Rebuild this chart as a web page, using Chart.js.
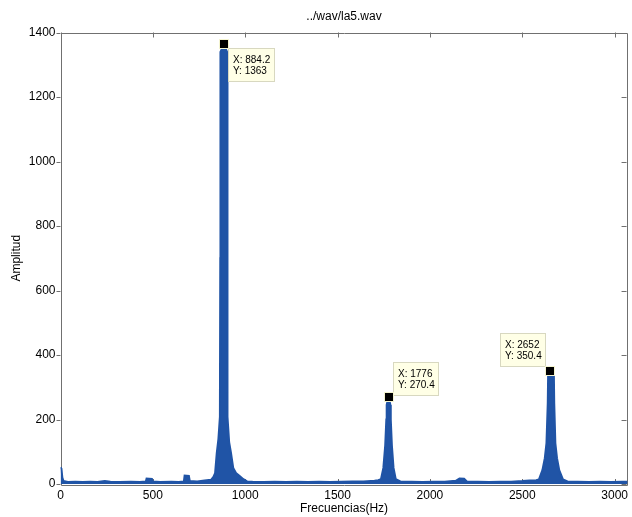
<!DOCTYPE html>
<html>
<head>
<meta charset="utf-8">
<script src="https://cdn.jsdelivr.net/npm/chart.js@4"></script>
<style>
  body { margin: 0; background: #fff; }
  canvas { display: block; }
</style>
</head>
<body>
<canvas id="chart" width="632" height="517"></canvas>
<script>
// spectrum envelope (Hz / amplitude)
var freqs = [0, 5, 10, 16, 40, 80, 120, 160, 200, 240, 270, 320, 380, 430, 462, 466, 495, 500, 540, 600, 640, 668, 672, 695, 700, 740, 780,
  815, 828, 837, 846, 855, 863, 865, 866, 884, 902, 903, 905, 913, 923, 935, 950, 970, 990, 1010,
  1040, 1100, 1160, 1220, 1280, 1340, 1400, 1460, 1520, 1580, 1640, 1700, 1720,
  1735, 1748, 1758, 1764, 1766, 1776, 1786, 1788, 1794, 1803, 1815, 1840,
  1900, 1960, 2020, 2080, 2140, 2160, 2185, 2200, 2260, 2320, 2380, 2440, 2500, 2540, 2575,
  2590, 2609, 2622, 2631, 2638, 2640, 2655, 2671, 2673, 2679, 2688, 2700, 2720, 2745,
  2800, 2860, 2920, 2980, 3040, 3070];
var amps = [52, 48, 20, 9, 6, 7, 6, 7, 6, 9, 7, 6, 7, 6, 8, 17, 16, 8, 6, 7, 6, 8, 26, 25, 9, 8, 11,
  13, 22, 34, 96, 140, 208, 700, 1340, 1363, 1340, 700, 208, 130, 96, 50, 34, 25, 15, 8,
  7, 6, 7, 6, 7, 6, 7, 6, 7, 8, 8, 10, 12,
  15, 50, 120, 200, 245, 270, 245, 200, 120, 50, 15, 8,
  7, 6, 7, 7, 10, 17, 16, 8, 7, 6, 7, 7, 9, 11, 12,
  14, 43, 80, 127, 250, 338, 350, 338, 250, 127, 80, 43, 14, 8,
  7, 6, 7, 6, 7, 7];

// data cursors
var tipX = [884.2, 1776, 2652];
var tipY = [1363, 270.4, 350.4];

var xTicks = [0, 500, 1000, 1500, 2000, 2500, 3000];
var yTicks = [0, 200, 400, 600, 800, 1000, 1200, 1400];
var xMax = 3070, yMax = 1400;

var title = '../wav/la5.wav';
var xLabel = 'Frecuencias(Hz)';
var yLabel = 'Amplitud';

var blue = '#2054a6';
var axisColor = '#707070';
var font = '12px "Liberation Sans", Arial, sans-serif';

var points = freqs.map(function (f, i) { return { x: f, y: amps[i] }; });

var matlabAxes = {
  id: 'matlabAxes',
  beforeDatasetsDraw: function (chart) {
    var ctx = chart.ctx, a = chart.chartArea;
    var sx = chart.scales.x, sy = chart.scales.y;
    ctx.save();
    ctx.strokeStyle = axisColor;
    ctx.lineWidth = 1;
    ctx.beginPath();
    ctx.rect(Math.round(a.left) + 0.5, Math.round(a.top) + 0.5, Math.round(a.right - a.left) - 1, Math.round(a.bottom - a.top));
    xTicks.forEach(function (v) {
      var px = Math.round(sx.getPixelForValue(v)) + 0.5;
      ctx.moveTo(px, a.top); ctx.lineTo(px, a.top + 5);
      ctx.moveTo(px, a.bottom); ctx.lineTo(px, a.bottom - 5);
    });
    yTicks.forEach(function (v) {
      var py = Math.round(sy.getPixelForValue(v)) + 0.5;
      ctx.moveTo(a.left, py); ctx.lineTo(a.left - 4, py);
      ctx.moveTo(a.right - 1, py); ctx.lineTo(a.right - 6, py);
    });
    ctx.stroke();
    ctx.restore();
  },
  afterDraw: function (chart) {
    var ctx = chart.ctx, a = chart.chartArea;
    var sx = chart.scales.x, sy = chart.scales.y;
    ctx.save();
    ctx.fillStyle = '#000';
    ctx.font = font;
    ctx.textAlign = 'center';
    ctx.textBaseline = 'middle';
    var cx = (a.left + a.right) / 2;
    ctx.fillText(title, cx, 17);
    ctx.fillText(xLabel, cx, 509);
    ctx.translate(17, (a.top + a.bottom) / 2);
    ctx.rotate(-Math.PI / 2);
    ctx.fillText(yLabel, 0, 0);
    ctx.restore();

    // data tips
    var place = [[4, 4, 'down'], [4, -1, 'up'], [-4, -4, 'upleft']];
    ctx.save();
    ctx.font = '10px "Liberation Sans", Arial, sans-serif';
    tipX.forEach(function (v, i) {
      var mx = sx.getPixelForValue(v), my = sy.getPixelForValue(tipY[i]);
      var l1 = 'X: ' + v, l2 = 'Y: ' + tipY[i];
      var w = Math.ceil(Math.max(ctx.measureText(l1).width, ctx.measureText(l2).width)) + 9;
      var h = 34;
      var p = place[i];
      var bx = p[2] === 'upleft' ? mx + p[0] - w : mx + p[0];
      var by = p[2] === 'down' ? my + p[1] : my + p[1] - h;
      bx = Math.round(bx); by = Math.round(by);
      ctx.fillStyle = '#ffffe6';
      ctx.fillRect(bx, by, w, h);
      ctx.strokeStyle = '#d8d8c0';
      ctx.lineWidth = 1;
      ctx.strokeRect(bx + 0.5, by + 0.5, w - 1, h - 1);
      ctx.fillStyle = '#000';
      ctx.textAlign = 'left';
      ctx.textBaseline = 'middle';
      ctx.fillText(l1, bx + 5, by + 12);
      ctx.fillText(l2, bx + 5, by + 23);
      // marker
      ctx.fillStyle = '#f4f4d0';
      ctx.fillRect(Math.round(mx) - 5, Math.round(my) - 5, 10, 10);
      ctx.fillStyle = '#000';
      ctx.fillRect(Math.round(mx) - 4, Math.round(my) - 4, 8, 8);
    });
    ctx.restore();
  }
};

function plain(v) { return String(v); }

new Chart(document.getElementById('chart'), {
  type: 'line',
  data: {
    datasets: [{
      data: points,
      borderColor: blue,
      backgroundColor: blue,
      borderWidth: 2,
      fill: 'origin',
      pointRadius: 0,
      tension: 0
    }]
  },
  options: {
    responsive: false,
    animation: false,
    layout: { padding: { top: 32.5, right: 1, left: 0, bottom: 0 } },
    plugins: { legend: { display: false }, tooltip: { enabled: false } },
    scales: {
      x: {
        type: 'linear',
        min: 0,
        max: xMax,
        afterBuildTicks: function (s) { s.ticks = xTicks.map(function (v) { return { value: v }; }); },
        afterFit: function (s) { s.height = 33; },
        grid: { display: false, drawTicks: false },
        border: { display: false },
        ticks: { callback: plain, color: '#000', font: { family: '"Liberation Sans", Arial, sans-serif', size: 12 }, padding: 4, maxRotation: 0 }
      },
      y: {
        type: 'linear',
        min: 0,
        max: yMax,
        afterBuildTicks: function (s) { s.ticks = yTicks.map(function (v) { return { value: v }; }); },
        afterFit: function (s) { s.width = 60.5; },
        grid: { display: false, drawTicks: false },
        border: { display: false },
        ticks: { callback: plain, color: '#000', font: { family: '"Liberation Sans", Arial, sans-serif', size: 12 }, padding: 5 }
      }
    }
  },
  plugins: [matlabAxes]
});
</script>
</body>
</html>
